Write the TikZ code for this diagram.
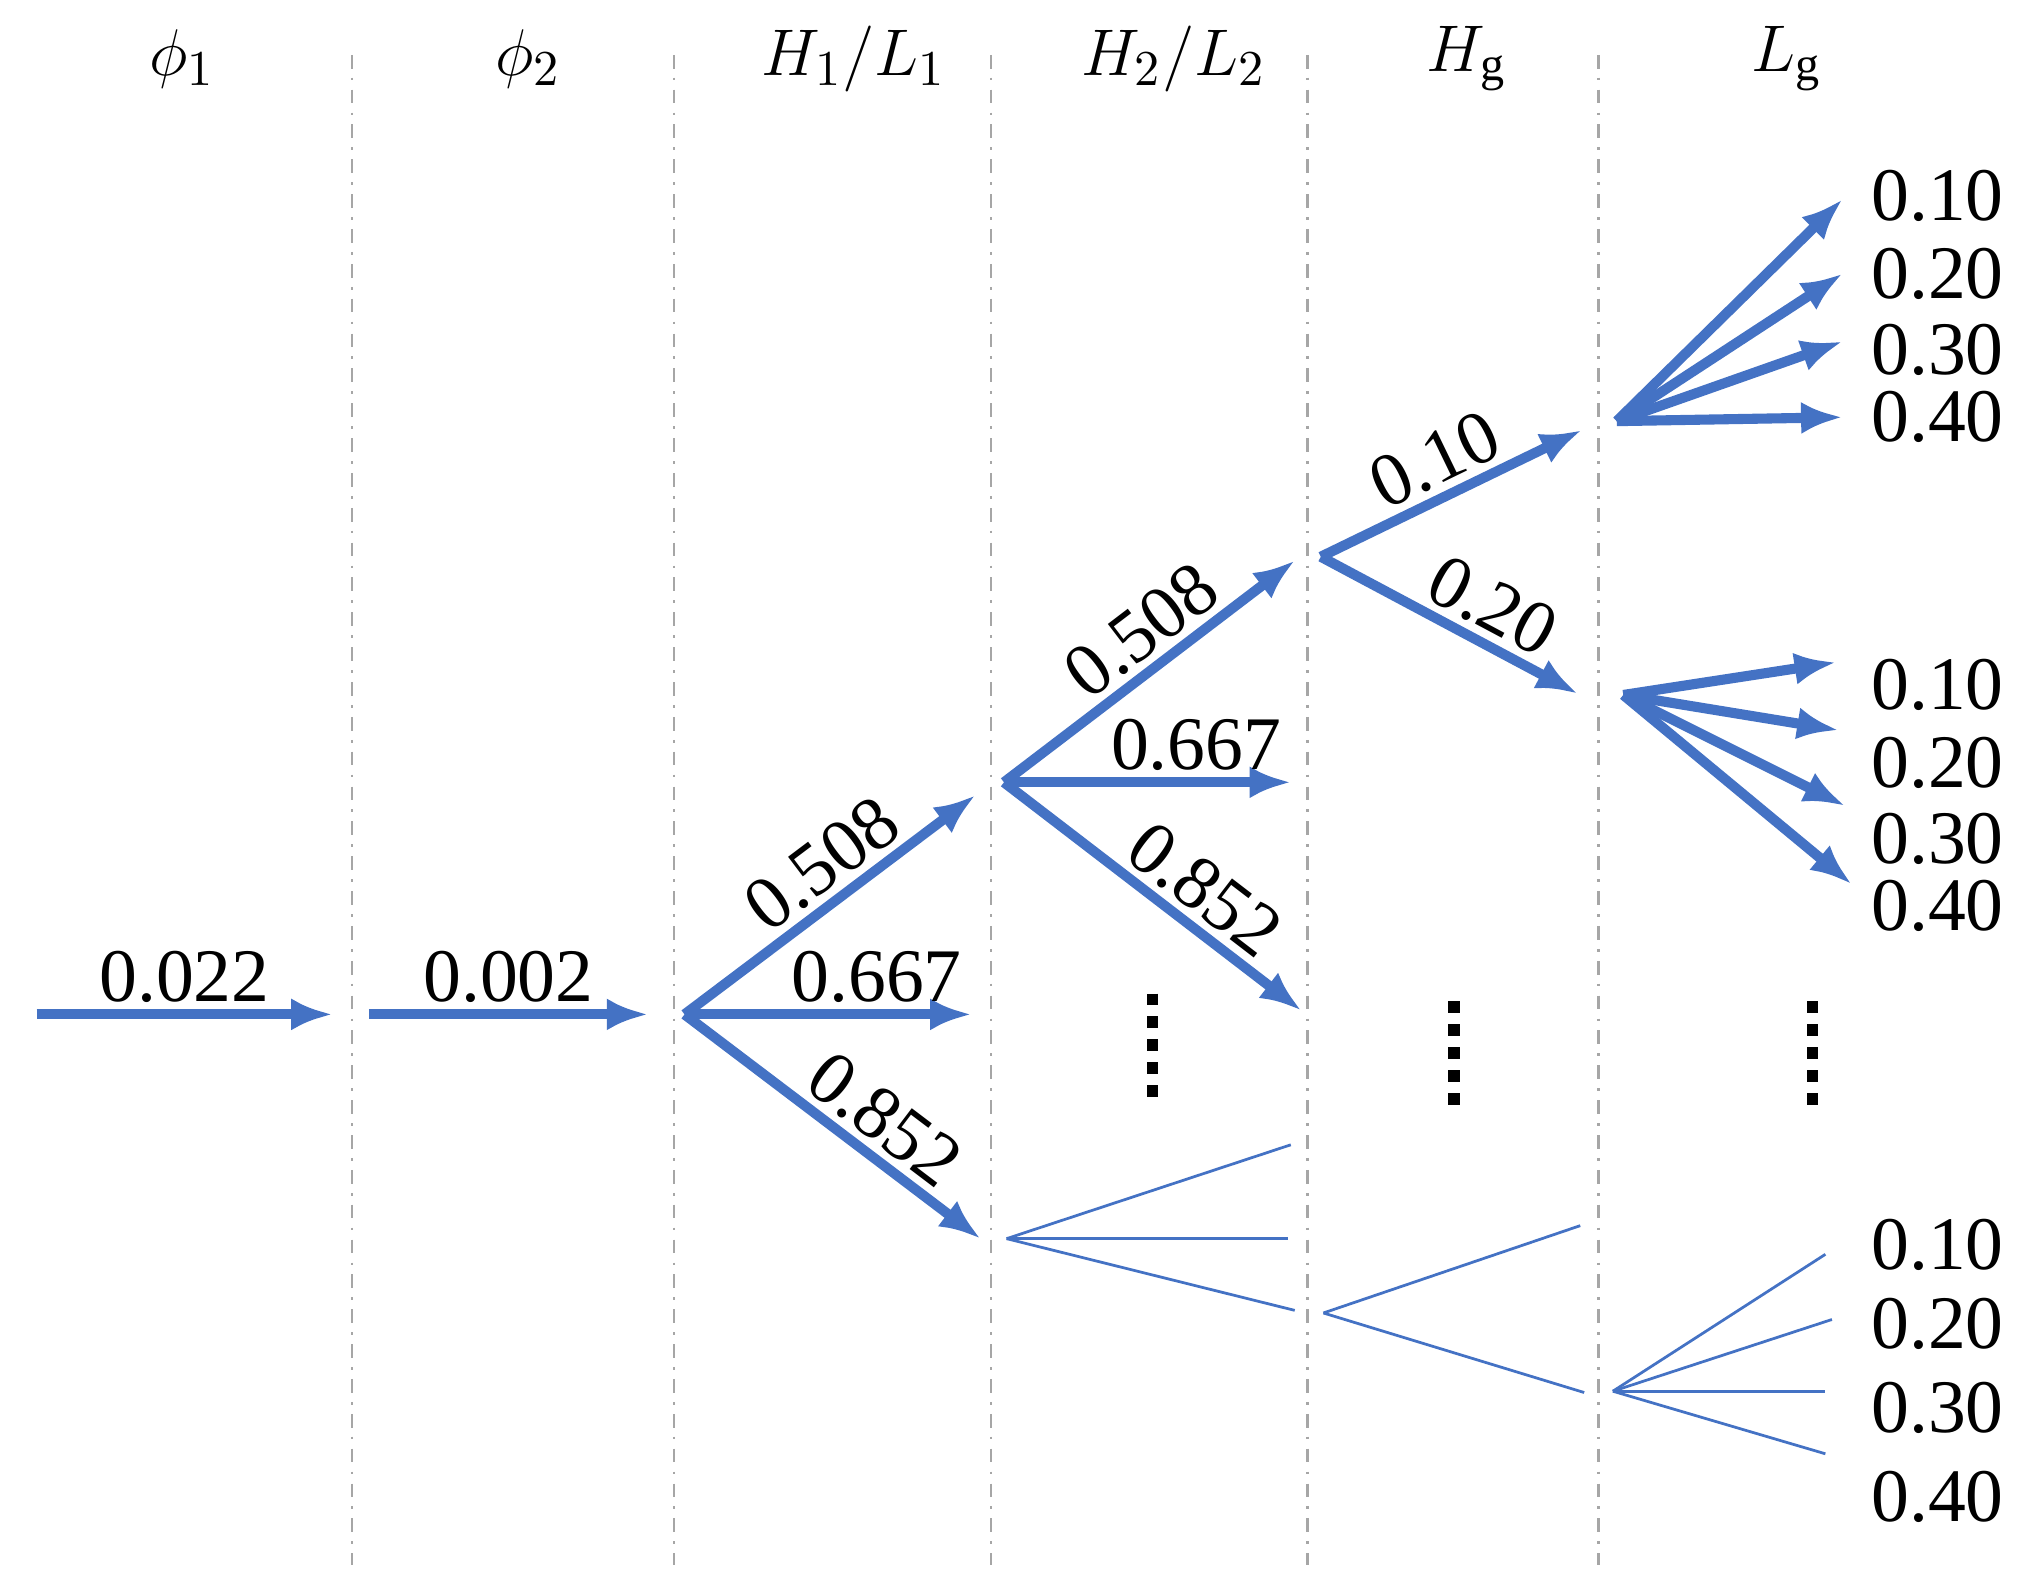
\documentclass[tikz,border=0pt]{standalone}
\usepackage{fontspec}
\setmainfont{Liberation Serif}
\usetikzlibrary{arrows.meta}
\definecolor{ab}{RGB}{68,114,196}
\begin{document}
\begin{tikzpicture}[x=0.01cm,y=-0.01cm,
  arr/.style={draw=ab,line width=2.2pt,-{Latex[length=9pt,width=7pt]}},
  thin/.style={draw=ab,line width=0.6pt},
  lab/.style={font=\fontsize{16.5}{16.5}\selectfont,inner sep=1.5pt},
  val/.style={font=\fontsize{16.5}{16.5}\selectfont,anchor=center},
  hd/.style={font=\fontsize{15}{15}\selectfont},
  div/.style={draw=gray!70,line width=0.6pt,dash dot},
  dots/.style={line width=2.5pt,dash pattern=on 2.5pt off 2.5pt}]
\useasboundingbox (0,0) rectangle (1560,1221);
\foreach \x in {270,517,760,1003,1226} \draw[div] (\x,42) -- (\x,1200);
\node[hd] (h1) at (140,45) {$\phi_1$};
\node[hd] (h2) at (405,45) {$\phi_2$};
\node[hd] (h3) at (655,45) {$H_1/L_1$};
\node[hd] (h4) at (900,45) {$H_2/L_2$};
\node[hd] (h5) at (1125,45) {$H_{\mathrm{g}}$};
\node[hd] (h6) at (1370,45) {$L_{\mathrm{g}}$};
\coordinate (s0) at (28,778); \coordinate (e0) at (255,778);
\coordinate (s1) at (283,778); \coordinate (e1) at (497,778);
\coordinate (a) at (525,778);
\coordinate (a1) at (748,610); \coordinate (a2) at (745,778); \coordinate (a3) at (752,950);
\coordinate (b) at (770,600);
\coordinate (b1) at (993,430); \coordinate (b2) at (990,600); \coordinate (b3) at (998,775);
\coordinate (c) at (1013,427);
\coordinate (c1) at (1213,330); \coordinate (c2) at (1210,532);
\coordinate (d) at (1240,323); \coordinate (f) at (1245,533);
\draw[arr] (s0) -- node[lab,above]{0.022} (e0);
\draw[arr] (s1) -- node[lab,above]{0.002} (e1);
\draw[arr] (a) -- node[lab,above,sloped,pos=0.55]{0.508} (a1);
\draw[arr] (a) -- node[lab,above,pos=0.67]{0.667} (a2);
\draw[arr] (a) -- node[lab,above,sloped,pos=0.6]{0.852} (a3);
\draw[arr] (b) -- node[lab,above,sloped,pos=0.55]{0.508} (b1);
\draw[arr] (b) -- node[lab,above,pos=0.67]{0.667} (b2);
\draw[arr] (b) -- node[lab,above,sloped,pos=0.6]{0.852} (b3);
\draw[arr] (c) -- node[lab,above,sloped,pos=0.5]{0.10} (c1);
\draw[arr] (c) -- node[lab,above,sloped,pos=0.6]{0.20} (c2);
\foreach \y [count=\i] in {153,210,262,320}{
  \coordinate (dt\i) at (1413,\y);
  \draw[arr] (d) -- (dt\i);
}
\foreach \x/\y [count=\i] in {1408/508,1410/560,1415/618,1420/678}{
  \coordinate (ft\i) at (\x,\y);
  \draw[arr] (f) -- (ft\i);
}
\foreach \y/\t [count=\i] in {150/0.10,210/0.20,268/0.30,320/0.40,525/0.10,585/0.20,643/0.30,695/0.40,955/0.10,1015/0.20,1080/0.30,1148/0.40}
  \node[val] (v\i) at (1486,\y) {\t};
\draw[dots] (884,762) -- (884,845);
\draw[dots] (1115,768) -- (1115,848);
\draw[dots] (1390,768) -- (1390,848);
\coordinate (g) at (772,950); \coordinate (h) at (1015,1007); \coordinate (k) at (1237,1067);
\draw[thin] (g) -- (990,878); \draw[thin] (g) -- (988,950); \draw[thin] (g) -- (993,1005);
\draw[thin] (h) -- (1212,940); \draw[thin] (h) -- (1215,1068);
\draw[thin] (k) -- (1400,962); \draw[thin] (k) -- (1405,1012); \draw[thin] (k) -- (1400,1067); \draw[thin] (k) -- (1400,1115);
\end{tikzpicture}
\end{document}
